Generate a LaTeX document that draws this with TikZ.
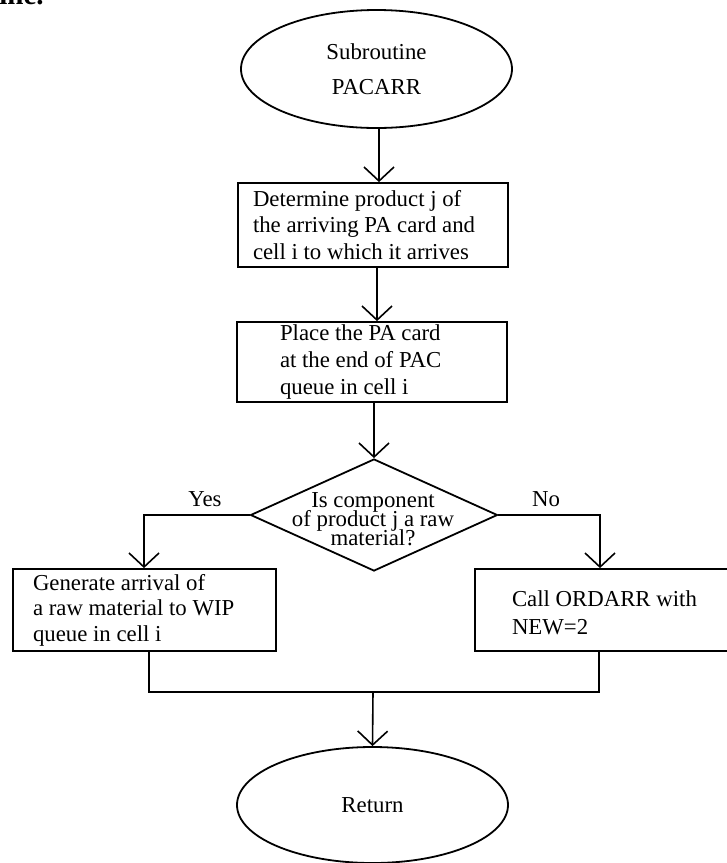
\documentclass[tikz,border=0pt]{standalone}
\usepackage{fontspec}
\setmainfont{Liberation Serif}
\usetikzlibrary{shapes.geometric,arrows.meta}

% stacked lines with a fixed baseline distance, left or centred
\newcommand\stackl[2]{\vbox{\baselineskip=#1\lineskiplimit=-\maxdimen\halign{##\hfil\cr#2\crcr}}}
\newcommand\stackc[2]{\vbox{\baselineskip=#1\lineskiplimit=-\maxdimen\halign{\hfil##\hfil\cr#2\crcr}}}
% box contents of a given width, indented from the left edge
\newcommand\boxtext[3]{\makebox[#1][l]{\hspace*{#2}#3}}

\begin{document}
\begin{tikzpicture}[x=0.5pt, y=-0.5pt,
  every node/.style={font=\fontsize{11.4}{13.4}\selectfont, inner sep=0pt},
  proc/.style={draw, rectangle, line width=0.9pt},
  term/.style={draw, ellipse, line width=0.9pt, minimum width=135.5pt},
  decide/.style={draw, diamond, line width=0.9pt},
  flow/.style={line width=0.8pt},
  arr/.style={flow, -{Straight Barb[length=7pt,width=15pt]}},
]
\path[use as bounding box] (0,0) rectangle (727,863);

% tail of the preceding line of the page
\node[anchor=base west, font=\fontsize{14.5}{16}\selectfont\bfseries] (frag) at (-1,4.5) {ine.};

% flowchart nodes
\node[term, minimum height=59pt] (start) at (376.5,69)
  {\stackc{17.5pt}{Subroutine\cr PACARR}};
\node[proc, minimum width=135pt, minimum height=42pt] (b1) at (373,225)
  {\boxtext{135pt}{7.5pt}{\stackl{13.3pt}{Determine product j of\cr the arriving PA card and\cr cell i to which it arrives}}};
\node[proc, minimum width=135pt, minimum height=40pt] (b2) at (372,362)
  {\boxtext{135pt}{21.5pt}{\stackl{13.3pt}{Place the PA card\cr at the end of PAC\cr queue in cell i}}};
\node[decide, minimum width=123.5pt, minimum height=56pt] (dec) at (374,515) {};
\node (decq) at (373,519)
  {\stackc{9.5pt}{Is component\cr of product j a raw\cr material?}};
\node[proc, minimum width=131.5pt, minimum height=41pt] (bl) at (144.5,610)
  {\boxtext{131.5pt}{10pt}{\stackl{12.8pt}{Generate arrival of\cr a raw material to WIP\cr queue in cell i}}};
\node[proc, minimum width=128.5pt, minimum height=41pt] (br) at (603.5,610)
  {\boxtext{128.5pt}{18.5pt}{\raisebox{-1.5pt}[\height][\depth]{\stackl{14pt}{Call ORDARR with\cr NEW=2}}}};
\node[term, minimum height=58pt] (end) at (372.5,805) {Return};

\node (yes) at (205,499) {Yes};
\node (no) at (546,499) {No};

% connector columns
\coordinate (ax1) at (379,0);
\coordinate (ax2) at (377,0);
\coordinate (lin) at (144,0);
\coordinate (rin) at (600,0);
\coordinate (lout) at (149,0);
\coordinate (rout) at (599,0);
\coordinate (merge) at (373,692);

% connectors
\draw[arr] (start.south -| ax1) -- (b1.north -| ax1);
\draw[arr] (b1.south -| ax2) -- (b2.north -| ax2);
\draw[arr] (b2.south -| dec.north) -- (dec.north);
\draw[arr] (dec.west) -| (bl.north -| lin);
\draw[arr] (dec.east) -| (br.north -| rin);
\draw[flow] (bl.south -| lout) -- (lout |- merge) -- (rout |- merge) -- (br.south -| rout);
\draw[arr] (merge) -- (end.north);
\end{tikzpicture}
\end{document}
